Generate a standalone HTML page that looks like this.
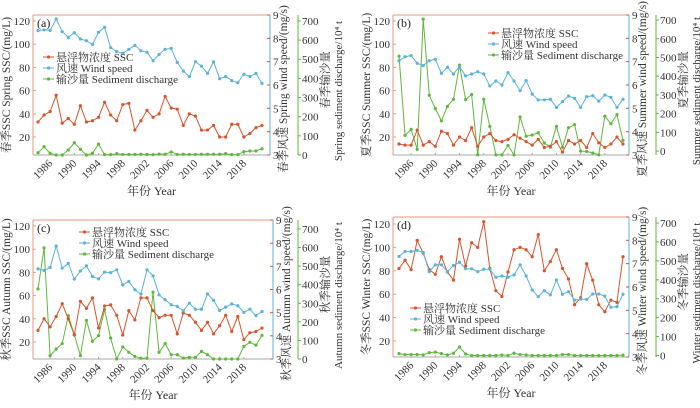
<!DOCTYPE html>
<html><head><meta charset="utf-8"><style>
body{margin:0;background:#fff}
svg text{font-family:"Liberation Serif","Noto Serif CJK SC",serif;}
</style></head><body>
<svg id="c" width="700" height="403" viewBox="0 0 700 403" xmlns="http://www.w3.org/2000/svg"></svg>
<script>
const startYear = 1984;
const tickYears = [1986,1990,1994,1998,2002,2006,2010,2014,2018];
const sscTicks = [20,40,60,80,100,120];
const windTicks = [3,4,5,6,7,8,9];
const sedTicks = [0,100,200,300,400,500,600,700];
const sscA = [33,39,42,56,32,36,31,47,33,34,37,50,39,34,48,49,26,34,43,37,40,55,45,44,30,40,38,26,26,30,20,20,31,31,20,23,28,30];
const windA = [8.33,8.36,8.34,8.83,8.29,8.04,8.24,7.97,7.9,7.74,8.26,8.47,7.6,7.43,7.36,7.53,7.7,7.47,7.4,7.04,7.31,7.53,7.57,6.97,6.6,6.36,7.0,6.81,6.5,6.99,6.27,6.36,6.19,6.1,6.46,6.37,6.5,6.07];
const sedA = [12,43,9,0,0,26,64,30,0,9,57,2,2,7,3,3,3,4,3,2,5,4,16,3,4,3,3,4,4,4,4,7,2,2,17,21,21,33];
const sscB = [14,13,13,26,13,16,12,25,23,13,20,17,28,12,20,23,17,16,18,22,19,16,13,18,11,12,16,7,17,14,17,11,23,15,11,14,20,14];
const windB = [7.04,7.21,7.26,6.93,6.83,7.04,7.1,6.5,6.76,6.47,6.79,6.39,6.47,6.57,6.47,5.96,6.17,6.0,6.53,6.17,5.76,6.19,5.61,5.36,5.36,5.39,5.04,5.29,5.53,5.43,5.04,5.5,5.54,5.31,5.57,5.47,5.04,5.39];
const sedB = [507,84,116,9,705,298,227,161,239,277,459,275,302,-20,277,132,-20,-20,30,-20,182,79,86,98,43,21,132,20,125,141,0,-2,-10,-20,186,146,195,57];
const sscC = [30,40,33,42,53,40,26,55,49,58,32,51,52,43,26,47,39,58,58,47,41,43,43,27,45,43,37,30,37,27,34,43,29,42,22,28,29,32];
const windC = [6.89,6.82,6.95,7.88,6.92,7.13,6.45,6.8,7.02,6.56,6.46,6.75,6.73,6.85,6.2,6.35,5.99,5.8,6.85,6.59,5.77,5.56,5.34,5.27,5.08,5.41,5.15,5.15,5.81,5.53,5.1,5.24,5.38,5.3,5.01,5.15,4.87,5.05];
const sedC = [377,598,18,54,83,233,131,18,208,95,126,266,113,0,65,36,14,4,4,359,36,83,23,23,5,9,9,41,23,0,0,0,0,0,68,90,75,127];
const sscD = [82,89,81,106,95,81,77,92,79,72,107,84,104,100,122,82,63,58,79,98,100,98,92,111,80,88,98,82,73,51,57,86,72,51,45,55,53,92];
const windD = [7.31,7.52,7.52,7.57,7.48,6.66,6.95,6.95,6.66,6.92,7.06,6.78,6.78,6.66,6.76,6.76,6.42,6.47,6.42,6.52,6.95,6.47,5.87,5.59,5.84,5.66,6.3,5.69,5.8,5.44,5.48,5.47,5.7,5.7,5.61,5.13,5.16,5.69];
const sedD = [10,5,5,5,3,15,18,10,3,12,45,8,0,0,0,0,0,3,0,12,5,3,0,0,0,0,0,5,5,0,0,0,0,0,0,0,0,2];

const C_SSC="#d9532b", C_W="#5bb3d8", C_S="#5fb83c", C_AX="#e89a7c";
const svg=document.getElementById('c');
const NS="http://www.w3.org/2000/svg";
function mk(tag,at,parent){const e=document.createElementNS(NS,tag);for(const k in at)e.setAttribute(k,at[k]);(parent||svg).appendChild(e);return e;}
function txt(s,at,parent){const e=mk('text',at,parent);e.textContent=s;return e;}

const panels=[
 {id:'a',season:'春季',en:'Spring',L:33,R:270,T:15,B:155,sx:298,x0:38,x1:262,ssc:[4.5,125.2],sed:[0,731],ssc_d:sscA,w_d:windA,s_d:sedA,leg:[43,57]},
 {id:'b',season:'夏季',en:'Summer',L:393,R:629,T:15,B:155,sx:656,x0:399,x1:623,ssc:[4.5,125.2],sed:[-21,727],ssc_d:sscB,w_d:windB,s_d:sedB,leg:[488,33]},
 {id:'c',season:'秋季',en:'Autumn',L:33,R:273,T:220,B:359,sx:298,x0:38,x1:262,ssc:[5.3,125.2],sed:[0,748],ssc_d:sscC,w_d:windC,s_d:sedC,leg:[79,232]},
 {id:'d',season:'冬季',en:'Winter',L:393,R:629,T:217,B:357,sx:656,x0:399,x1:623,ssc:[6.3,126],sed:[-8,732],ssc_d:sscD,w_d:windD,s_d:sedD,leg:[410,308]}
];

panels.forEach(p=>{
 const g=mk('g',{});
 
 
 const n=p.ssc_d.length;
 const xs=i=>p.x0+(p.x1-p.x0)*i/(n-1);
 const xy=y=>xs(y-startYear);
 const ySSC=v=>p.B-(v-p.ssc[0])/(p.ssc[1]-p.ssc[0])*(p.B-p.T);
 const yW=v=>p.B-(v-3)/6*(p.B-p.T);
 const ySed=v=>p.B-(v-p.sed[0])/(p.sed[1]-p.sed[0])*(p.B-p.T);
 mk('line',{x1:p.L,y1:p.T,x2:p.R,y2:p.T,stroke:C_AX,'stroke-width':1},g);
 mk('line',{x1:p.L,y1:p.B,x2:p.R,y2:p.B,stroke:'#aaa','stroke-width':1},g);
 const la=mk('line',{x1:p.L,y1:p.T,x2:p.L,y2:p.B,stroke:C_AX,'stroke-width':1},g);
 
 const wa=mk('line',{x1:p.R,y1:p.T,x2:p.R,y2:p.B,stroke:C_W,'stroke-width':1},g);
 
 const sa=mk('line',{x1:p.sx,y1:p.T,x2:p.sx,y2:p.B,stroke:C_S,'stroke-width':1},g);
 
 sscTicks.forEach(t=>{const y=ySSC(t);mk('line',{x1:p.L,y1:y,x2:p.L+3,y2:y,stroke:C_AX},g);
  const e=txt(t,{x:p.L-3,y:y+4,'font-size':11,'text-anchor':'end',fill:'#333'},g);});
 windTicks.forEach(t=>{const y=yW(t);mk('line',{x1:p.R,y1:y,x2:p.R-3,y2:y,stroke:C_SSC},g);
  const e=txt(t,{x:p.R+3,y:y+4,'font-size':11,fill:'#333'},g);});
 sedTicks.forEach(t=>{const y=ySed(t);mk('line',{x1:p.sx,y1:y,x2:p.sx+3,y2:y,stroke:C_S},g);
  const e=txt(t,{x:p.sx+4,y:y+4,'font-size':11,fill:'#333'},g);});
 tickYears.forEach(t=>{const x=xy(t);mk('line',{x1:x,y1:p.B,x2:x,y2:p.B-2,stroke:'#aaa'},g);
  const ax=x+3, ay=p.B+9;
  const e=txt(t,{x:ax,y:ay,'font-size':11,'text-anchor':'end',fill:'#333',transform:`rotate(-45 ${ax} ${ay})`},g);
  });
 const cx=(p.L+p.R)/2, cy=(p.T+p.B)/2;
 let e=txt('年份 Year',{x:cx,y:p.B+40,'font-size':12,'text-anchor':'middle',fill:'#333'},g);
 
 e=txt(p.season+'SSC '+p.en+' SSC/(mg/L)',{x:p.L-23,y:cy,'font-size':11.5,'text-anchor':'middle',fill:'#333',transform:`rotate(-90 ${p.L-23} ${cy})`},g);
 
 e=txt(p.season+'风速 '+p.en+' wind speed/(mg/s)',{x:p.R+17,y:cy+4,'font-size':11.5,'text-anchor':'middle',fill:'#333',transform:`rotate(-90 ${p.R+17} ${cy+4})`},g);
 
 e=txt(p.season+'输沙量',{x:p.sx+31,y:cy-5,'font-size':11.5,'text-anchor':'middle',fill:'#333',transform:`rotate(-90 ${p.sx+31} ${cy-5})`},g);
 
 e=txt(p.en+' sediment discharge/10⁴ t',{x:p.sx+44,y:cy+6,'font-size':11,'text-anchor':'middle',fill:'#333',transform:`rotate(-90 ${p.sx+44} ${cy+6})`},g);
 
 e=txt('('+p.id+')',{x:p.L+4,y:p.T+12,'font-size':12,fill:'#222'},g);
 
 const series=[[p.s_d,ySed,C_S,'sediment'],[p.ssc_d,ySSC,C_SSC,'ssc'],[p.w_d,yW,C_W,'wind']];
 series.forEach(([d,yf,col,nm])=>{
  const pts=d.map((v,i)=>xs(i).toFixed(1)+','+yf(v).toFixed(1)).join(' ');
  const pl=mk('polyline',{points:pts,fill:'none',stroke:col,'stroke-width':1},g);
  
  d.forEach((v,i)=>{const c=mk('circle',{cx:xs(i),cy:yf(v),r:1.6,fill:col},g);
   });
 });
 const lg=[['悬浮物浓度 SSC',C_SSC],['风速 Wind speed',C_W],['输沙量 Sediment discharge',C_S]];
 lg.forEach(([s,col],k)=>{const y=p.leg[1]+k*11;
  const ge=mk('g',{},g);
  mk('line',{x1:p.leg[0],y1:y,x2:p.leg[0]+11,y2:y,stroke:col},ge);
  mk('circle',{cx:p.leg[0]+5.5,cy:y,r:1.6,fill:col},ge);
  txt(s,{x:p.leg[0]+13,y:y+4,'font-size':11,fill:'#333'},ge);});
});
</script>
</body></html>
